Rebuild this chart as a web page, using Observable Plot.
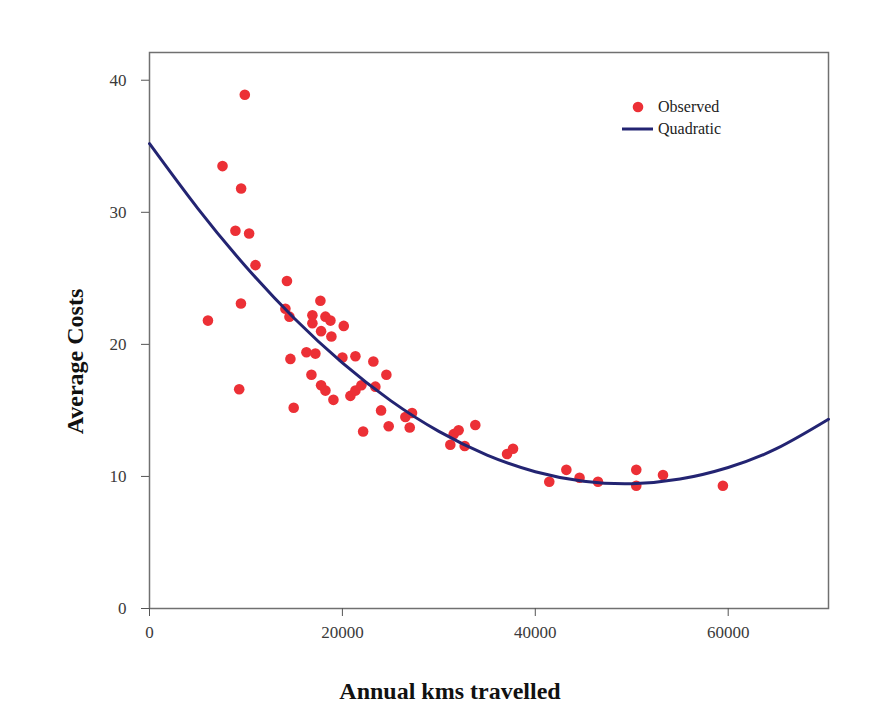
<!DOCTYPE html>
<html>
<head>
<meta charset="utf-8">
<script src="https://cdn.jsdelivr.net/npm/d3@7"></script>
<script src="https://cdn.jsdelivr.net/npm/@observablehq/plot@0.6"></script>
<style>
  html, body { margin: 0; padding: 0; background: #fff; }
  #wrap { position: relative; width: 870px; height: 719px; }
  #legend { position: absolute; left: 620px; top: 96px; font-family: "Liberation Serif", serif; font-size: 16px; color: #222; }
  #legend .row { display: flex; align-items: center; height: 22px; }
  #legend .sw { width: 34px; height: 22px; display: flex; align-items: center; justify-content: center; margin-right: 4px; }
</style>
</head>
<body>
<div id="wrap"></div>
<script>
// Observed data: annual kms travelled vs average costs
const kms = [9880, 7570, 9500, 8910, 10330, 10990, 14250, 9480, 6060, 9300,
  14090, 14510, 17720, 16890, 16890, 18240, 18760, 20140, 17790, 18860,
  14610, 16270, 17200, 20000, 21350, 23210, 16790, 17790, 18240, 19070,
  14950, 24560, 23420, 20830, 21350, 21970, 24010, 22150, 24800, 26530,
  27220, 26980, 31540, 32050, 33780, 31190, 32680, 37070, 37690, 41450,
  43220, 44590, 46500, 50470, 50470, 53240, 59450];
const costs = [38.9, 33.5, 31.8, 28.6, 28.4, 26.0, 24.8, 23.1, 21.8, 16.6,
  22.7, 22.1, 23.3, 22.2, 21.6, 22.1, 21.8, 21.4, 21.0, 20.6,
  18.9, 19.4, 19.3, 19.0, 19.1, 18.7, 17.7, 16.9, 16.5, 15.8,
  15.2, 17.7, 16.8, 16.1, 16.5, 16.9, 15.0, 13.4, 13.8, 14.5,
  14.8, 13.7, 13.2, 13.5, 13.9, 12.4, 12.3, 11.7, 12.1, 9.6,
  10.5, 9.9, 9.6, 10.5, 9.3, 10.1, 9.3];

// Quadratic fit curve
const fitKms = [0, 5000, 10000, 15000, 20000, 25000, 30000, 35000, 40000, 45000, 50000, 55000, 60000, 65000, 70400];
const fitCost = [35.2, 30.30, 25.88, 21.98, 18.60, 15.74, 13.41, 11.62, 10.36, 9.64, 9.45, 9.80, 10.68, 12.10, 14.33];

const xTicks = [0, 20000, 40000, 60000];
const yTicks = [0, 10, 20, 30, 40];

const observed = kms.map((k, i) => ({kms: k, cost: costs[i]}));
const fit = fitKms.map((k, i) => ({kms: k, cost: fitCost[i]}));

const RED = "#ec3036";
const NAVY = "#232472";

const chart = Plot.plot({
  width: 870,
  height: 719,
  marginLeft: 149,
  marginRight: 42,
  marginTop: 52,
  marginBottom: 111,
  style: {fontFamily: "Liberation Serif, serif", fontSize: "17px", background: "#fff", color: "#3a3a3a"},
  x: {domain: [0, 70400]},
  y: {domain: [0, 42.1]},
  marks: [
    Plot.frame({stroke: "#707070", strokeWidth: 1.5}),
    Plot.axisX({ticks: xTicks, tickFormat: "d", tickSize: 8, tickPadding: 9, label: null, stroke: "#555", fill: "#3a3a3a"}),
    Plot.axisY({ticks: yTicks, tickSize: 8, tickPadding: 15, label: null, stroke: "#555", fill: "#3a3a3a"}),
    Plot.dot(observed, {x: "kms", y: "cost", r: 5.3, fill: RED, stroke: "none"}),
    Plot.line(fit, {x: "kms", y: "cost", stroke: NAVY, strokeWidth: 3, curve: "natural"}),
    Plot.text(["Annual kms travelled"], {frameAnchor: "bottom", textAnchor: "middle", dx: -39, dy: 90, fontWeight: "bold", fontSize: 24, fill: "#111"}),
    Plot.text(["Average Costs"], {frameAnchor: "left", textAnchor: "middle", rotate: -90, dx: -74, dy: 31, fontWeight: "bold", fontSize: 24, fill: "#111"})
  ]
});

const wrap = document.getElementById("wrap");
wrap.appendChild(chart);

const legend = document.createElement("div");
legend.id = "legend";
legend.innerHTML = `
  <div class="row"><div class="sw"><svg width="34" height="22"><circle cx="18" cy="11" r="5.3" fill="${RED}"/></svg></div><span>Observed</span></div>
  <div class="row"><div class="sw"><svg width="34" height="22"><line x1="2" x2="33" y1="11" y2="11" stroke="${NAVY}" stroke-width="3"/></svg></div><span>Quadratic</span></div>`;
wrap.appendChild(legend);
</script>
</body>
</html>
